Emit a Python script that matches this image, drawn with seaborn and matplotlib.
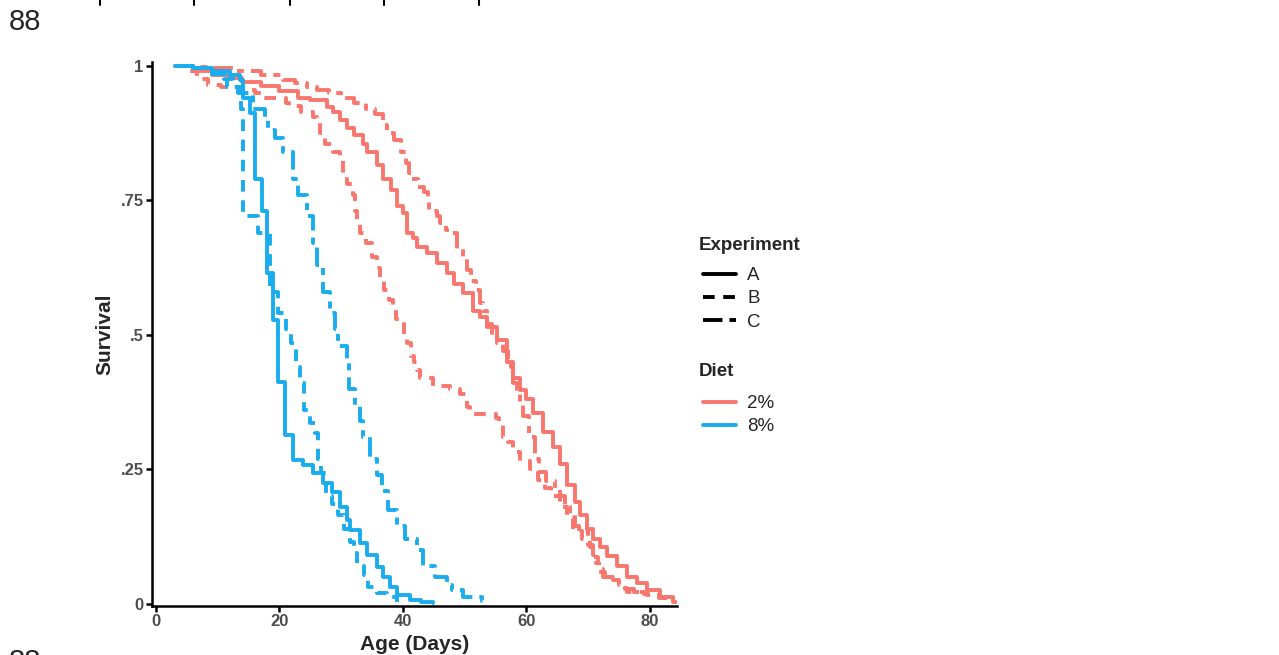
import pandas as pd
import matplotlib
matplotlib.use("Agg")
import matplotlib.pyplot as plt
from matplotlib.lines import Line2D
import seaborn as sns

# step points (day, survival)
red_a = [(3, 1.0), (6, 0.99), (9, 0.983), (12, 0.977), (14, 0.97), (17, 0.962), (20, 0.953),
         (23, 0.94), (25, 0.937), (27.7, 0.924), (28.7, 0.915), (29.8, 0.9), (31, 0.885),
         (32, 0.872), (33.5, 0.855), (34.2, 0.84), (35.8, 0.815), (36.8, 0.79), (38, 0.77),
         (39, 0.74), (40, 0.727), (40.6, 0.69), (41.7, 0.68), (42.3, 0.663), (43.9, 0.652),
         (45.5, 0.634), (47.2, 0.615), (48.2, 0.595), (49.8, 0.578), (51.4, 0.545),
         (52.5, 0.533), (53.6, 0.515), (55.3, 0.49), (56.9, 0.45), (57.9, 0.42), (59, 0.398),
         (60, 0.38), (61.1, 0.355), (62.7, 0.32), (64.3, 0.292), (65.5, 0.26), (66.6, 0.22),
         (67.9, 0.19), (68.7, 0.165), (69.9, 0.14), (70.8, 0.12), (72, 0.105), (73.1, 0.088),
         (74.7, 0.07), (76.3, 0.05), (78, 0.039), (79.6, 0.025), (81.7, 0.013), (83.8, 0.004),
         (84.3, 0.004)]
red_b = [(3, 1.0), (5, 0.99), (6.6, 0.975), (8.5, 0.965), (10.5, 0.96), (14, 0.955), (16, 0.95),
         (17.5, 0.94), (21, 0.93), (21.5, 0.925), (23.5, 0.915), (25.5, 0.905), (26, 0.895),
         (26.5, 0.875), (27.4, 0.855), (28.7, 0.84), (29.8, 0.83), (30.3, 0.79), (31, 0.78),
         (31.9, 0.76), (32.2, 0.73), (32.6, 0.71), (33, 0.69), (34, 0.67), (35, 0.645),
         (35.8, 0.625), (36.3, 0.6), (37, 0.584), (37.8, 0.565), (38.4, 0.55), (38.9, 0.53),
         (39.6, 0.52), (40.1, 0.5), (40.7, 0.485), (41.3, 0.46), (41.8, 0.45), (42.3, 0.435),
         (42.8, 0.42), (44.8, 0.405), (47.6, 0.4), (49.3, 0.39), (50.4, 0.366), (50.9, 0.352),
         (55, 0.345), (55.5, 0.336), (56.2, 0.31), (57, 0.3), (57.9, 0.283), (59, 0.265),
         (60.6, 0.25), (61.9, 0.23), (63, 0.215), (64, 0.2), (65.5, 0.18), (66.5, 0.16),
         (67.6, 0.135), (69, 0.12), (70.3, 0.106), (70.8, 0.087), (71.6, 0.065), (72.4, 0.05),
         (74, 0.045), (75, 0.03), (76.3, 0.022), (79, 0.018), (81.5, 0.012), (82.5, 0.012)]
red_c = [(3, 1.0), (6, 0.998), (9, 0.996), (13, 0.99), (17, 0.983), (20.5, 0.974), (22.5, 0.968),
         (24.5, 0.96), (26, 0.955), (28, 0.95), (30, 0.94), (32, 0.93), (34, 0.92), (35.5, 0.91),
         (36.8, 0.89), (37.5, 0.875), (38.5, 0.862), (39.7, 0.84), (40.5, 0.82), (41, 0.8),
         (41.5, 0.79), (42.4, 0.775), (43.4, 0.765), (44, 0.75), (44.2, 0.73), (45.5, 0.72),
         (46, 0.708), (47, 0.695), (48, 0.69), (48.8, 0.66), (49.8, 0.645), (50.4, 0.62),
         (51, 0.6), (51.8, 0.584), (52.5, 0.56), (53, 0.545), (53.6, 0.52), (54.4, 0.5),
         (55.3, 0.485), (56.2, 0.47), (57, 0.45), (57.5, 0.44), (57.9, 0.41), (58.4, 0.39),
         (59, 0.37), (59.5, 0.35), (60.5, 0.31), (61.4, 0.27), (62, 0.245), (63.2, 0.228),
         (64.6, 0.215), (65.5, 0.2), (66.3, 0.18), (67, 0.165), (67.8, 0.145), (68.5, 0.135),
         (70, 0.11), (70.8, 0.09), (71.3, 0.075), (71.8, 0.06), (72.8, 0.05), (74, 0.042),
         (75, 0.035), (76, 0.028), (77.5, 0.022), (79.5, 0.017), (81.5, 0.01), (82.5, 0.008)]
blue_a = [(3, 1.0), (6, 0.996), (9, 0.99), (12, 0.983), (13.6, 0.974), (14.1, 0.94),
          (15.2, 0.912), (16, 0.79), (17.2, 0.73), (18, 0.615), (19, 0.528), (19.8, 0.413),
          (20.9, 0.314), (22.2, 0.268), (23.8, 0.258), (25.4, 0.243), (27.1, 0.225),
          (28.5, 0.208), (29.8, 0.18), (31, 0.156), (31.4, 0.138), (33.1, 0.113), (34.2, 0.091),
          (35.8, 0.069), (36.8, 0.05), (37.9, 0.032), (39.1, 0.017), (41.2, 0.007), (43, 0.004),
          (44.9, 0.002)]
blue_b = [(3, 1.0), (6, 0.995), (9, 0.985), (11, 0.975), (12.5, 0.96), (13.8, 0.92), (14.1, 0.72),
          (16.5, 0.69), (18.5, 0.58), (19.8, 0.54), (21, 0.51), (21.8, 0.485), (22.6, 0.44),
          (23.4, 0.41), (24, 0.36), (25, 0.336), (25.8, 0.318), (26.3, 0.27), (26.8, 0.243),
          (27.5, 0.2), (28.5, 0.185), (29.5, 0.165), (30.5, 0.14), (31.5, 0.115), (32, 0.095),
          (32.5, 0.07), (33.7, 0.054), (34.3, 0.032), (35.8, 0.02), (37.5, 0.013), (39, 0.003)]
blue_c = [(3, 1.0), (6, 0.995), (9, 0.985), (11.5, 0.96), (13.3, 0.95), (15.7, 0.92), (17.7, 0.905),
          (18.2, 0.88), (19.3, 0.865), (20.6, 0.84), (22.2, 0.79), (23, 0.76), (24.5, 0.72),
          (25.4, 0.67), (26.1, 0.63), (27.1, 0.58), (28.2, 0.54), (29, 0.51), (29.5, 0.48),
          (31, 0.45), (31.2, 0.4), (32.3, 0.37), (33.1, 0.34), (33.5, 0.31), (34.7, 0.27),
          (35.8, 0.24), (36.6, 0.21), (37.6, 0.175), (39.1, 0.145), (40.4, 0.12), (42.3, 0.1),
          (43.3, 0.07), (45.2, 0.05), (47.2, 0.035), (48, 0.026), (49.8, 0.013), (52.8, 0.005),
          (53.2, 0.005)]

series = {('2%', 'A'): red_a, ('2%', 'B'): red_b, ('2%', 'C'): red_c,
          ('8%', 'A'): blue_a, ('8%', 'B'): blue_b, ('8%', 'C'): blue_c}

x_ticks = [0, 20, 40, 60, 80]
y_ticks = [0, 0.25, 0.5, 0.75, 1]
y_tick_labels = ['0', '.25', '.5', '.75', '1']
experiments = ['A', 'B', 'C']
diets = ['2%', '8%']

palette = {'2%': '#F8766D', '8%': '#1AADEE'}
dashes = {'A': '', 'B': (3, 2.2), 'C': (5, 1.8, 1.8, 1.8)}

rows = []
for (diet, exp), pts in series.items():
    for day, surv in pts:
        rows.append({'Age': day, 'Survival': surv, 'Diet': diet, 'Experiment': exp})
df = pd.DataFrame(rows)

sns.set_style("white")
plt.rcParams['font.family'] = ['Liberation Sans', 'DejaVu Sans']

W, H = 1279, 655
fig = plt.figure(figsize=(W / 100, H / 100), dpi=100)
ax = fig.add_axes([152 / W, 49 / H, 525 / W, 544 / H])

lw = 2.8
sns.lineplot(data=df, x='Age', y='Survival', hue='Diet', style='Experiment',
             palette=palette, dashes=dashes, estimator=None, drawstyle='steps-post',
             linewidth=lw, legend=False, ax=ax)

ax.set_xlim(-0.65, 84.4)
ax.set_ylim(-0.004, 1.007)
ax.set_xticks(x_ticks)
ax.set_yticks(y_ticks)
ax.set_yticklabels(y_tick_labels)
for lab in ax.get_xticklabels() + ax.get_yticklabels():
    lab.set_fontweight('bold')
    lab.set_fontsize(12)
    lab.set_color('#4D4D4D')
ax.tick_params(axis='both', length=4, width=1.8, color='black', pad=2, direction='out',
               bottom=True, left=True)
for side in ['top', 'right']:
    ax.spines[side].set_visible(False)
for side in ['left', 'bottom']:
    ax.spines[side].set_color('black')
    ax.spines[side].set_linewidth(1.8)

ax.set_xlabel('Age (Days)', fontsize=15, fontweight='bold', labelpad=4)
ax.set_ylabel('Survival', fontsize=15, fontweight='bold', labelpad=4.5)

# legends: Experiment (line type) then Diet (colour)
exp_handles = [Line2D([], [], color='black', lw=lw, linestyle='-'),
               Line2D([], [], color='black', lw=lw, dashes=dashes['B']),
               Line2D([], [], color='black', lw=lw, dashes=dashes['C'])]
diet_handles = [Line2D([], [], color=palette[d], lw=lw) for d in diets]

leg_kw = dict(frameon=False, loc='upper left', fontsize=13.5, handlelength=1.75,
              handletextpad=0.62, labelspacing=0.33, borderpad=0, borderaxespad=0)
fig.legend(exp_handles, experiments, bbox_to_anchor=(703 / W, 1 - 267 / H), **leg_kw)
fig.legend(diet_handles, diets, bbox_to_anchor=(703 / W, 1 - 395 / H), **leg_kw)
fig.text(699 / W, 1 - 245 / H, 'Experiment', fontsize=13.5, fontweight='bold',
         va='center', ha='left')
fig.text(699 / W, 1 - 372 / H, 'Diet', fontsize=13.5, fontweight='bold',
         va='center', ha='left')

# page fragments around the figure
fig.text(9 / W, 1 - 22 / H, '88', fontsize=21, va='center', ha='left')
fig.text(9 / W, 1 - 648 / H, '88', fontsize=21, va='top', ha='left')
for px in [100, 194, 290, 384, 479]:
    fig.add_artist(Line2D([px / W, px / W], [1, 1 - 5 / H], color='black', lw=1.5,
                          transform=fig.transFigure))

fig.savefig('out.png', dpi=100)
